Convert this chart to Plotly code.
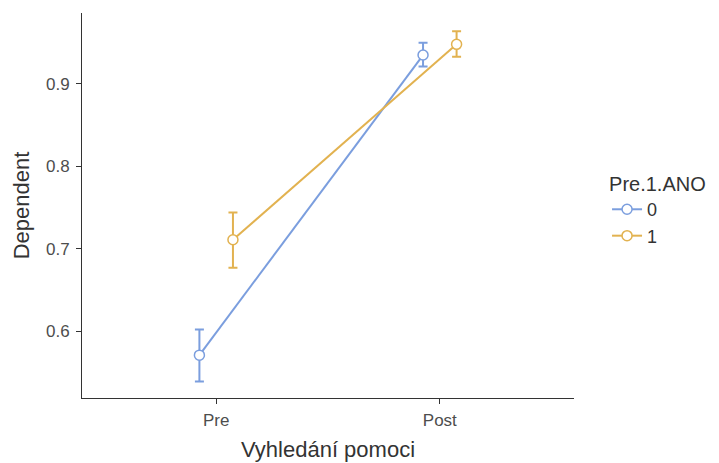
import plotly.graph_objects as go

# Estimated marginal means with confidence intervals
time_labels = ["Pre", "Post"]
groups = ["0", "1"]
means = {"0": [0.571, 0.935], "1": [0.711, 0.948]}
upper = {"0": [0.602, 0.950], "1": [0.744, 0.964]}
lower = {"0": [0.539, 0.921], "1": [0.677, 0.933]}
colors = {"0": "#7B9EDE", "1": "#E2B250"}
dodge = {"0": -0.075, "1": 0.075}

fig = go.Figure()
for g in groups:
    xs = [i + 1 + dodge[g] for i in range(len(time_labels))]
    m = means[g]
    fig.add_trace(go.Scatter(
        x=xs, y=m, name=g, mode="lines+markers",
        line=dict(color=colors[g], width=2),
        marker=dict(symbol="circle", size=10, color="white",
                    line=dict(color=colors[g], width=1.5)),
        error_y=dict(type="data", symmetric=False,
                     array=[u - v for u, v in zip(upper[g], m)],
                     arrayminus=[v - lo for v, lo in zip(m, lower[g])],
                     color=colors[g], thickness=2, width=4.5),
    ))

family = "Liberation Sans, Arial, sans-serif"
axis_font = dict(family=family, size=22, color="#333333")
tick_font = dict(family=family, size=17, color="#4d4d4d")

fig.update_layout(
    width=719, height=463,
    margin=dict(l=82, r=144, t=13, b=65),
    paper_bgcolor="white", plot_bgcolor="white",
    font=dict(family=family),
    xaxis=dict(
        range=[0.4, 2.6], tickvals=[1, 2], ticktext=time_labels,
        showgrid=False, zeroline=False, automargin=False,
        showline=True, linecolor="#333333", linewidth=1,
        ticks="outside", ticklen=5, tickcolor="#333333",
        tickfont=tick_font, ticklabelstandoff=2,
        title=dict(text="Vyhledání pomoci", font=axis_font, standoff=12),
    ),
    yaxis=dict(
        range=[0.519, 0.986], tickvals=[0.6, 0.7, 0.8, 0.9],
        ticktext=["0.6", "0.7", "0.8", "0.9"],
        showgrid=False, zeroline=False, automargin=False,
        showline=True, linecolor="#333333", linewidth=1,
        ticks="outside", ticklen=5, tickcolor="#333333",
        tickfont=tick_font, ticklabelstandoff=3,
        title=dict(text="Dependent", font=axis_font, standoff=10),
    ),
    legend=dict(
        title=dict(text="Pre.1.ANO", font=dict(family=family, size=20, color="#333333")),
        font=dict(family=family, size=18, color="#333333"),
        x=1.065, xanchor="left", y=0.605, yanchor="top",
        tracegroupgap=0, itemwidth=30,
    ),
    showlegend=True,
)

fig.write_html("out.html")
